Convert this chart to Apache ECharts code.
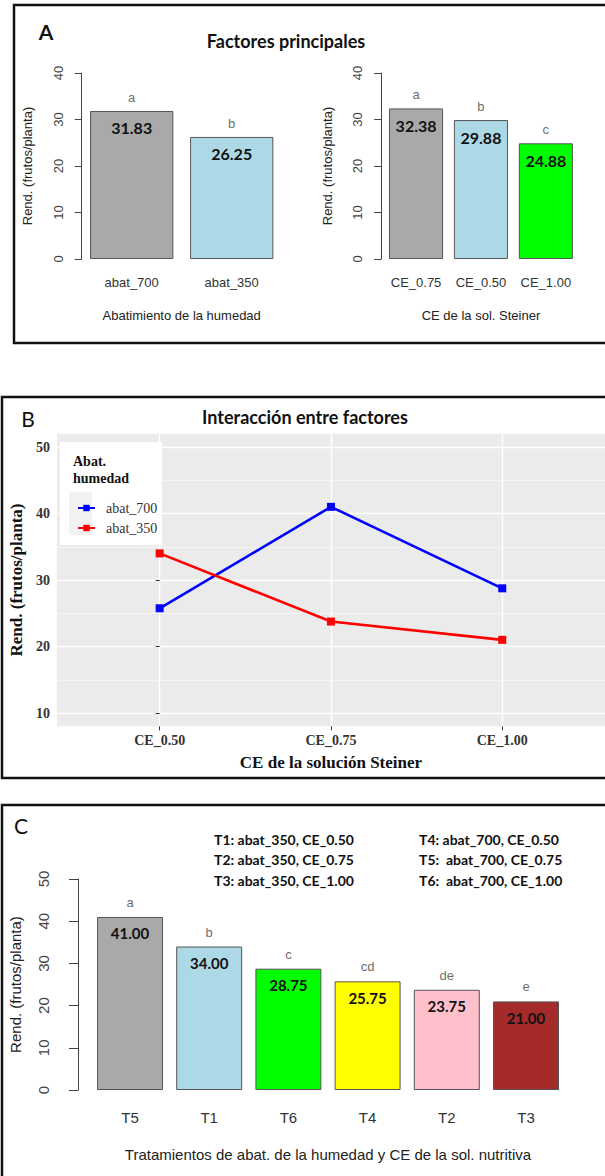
<!DOCTYPE html>
<html><head><meta charset="utf-8">
<script src="https://cdn.jsdelivr.net/npm/echarts@6/dist/echarts.min.js"></script>
<style>html,body{margin:0;padding:0;background:#fff}#c{width:605px;height:1176px}</style>
</head><body><div id="c"></div>
<script>
// ---------- data ----------
const catsA1 = ['abat_700', 'abat_350'];
const valsA1 = [31.83, 26.25];
const lettersA1 = ['a', 'b'];
const catsA2 = ['CE_0.75', 'CE_0.50', 'CE_1.00'];
const valsA2 = [32.38, 29.88, 24.88];
const lettersA2 = ['a', 'b', 'c'];
const ticksA = [0, 10, 20, 30, 40];

const catsB = ['CE_0.50', 'CE_0.75', 'CE_1.00'];
const seriesNamesB = ['abat_700', 'abat_350'];
const abat700 = [25.75, 41.00, 28.75];
const abat350 = [34.00, 23.75, 21.00];
const ticksB = [10, 20, 30, 40, 50];

const catsC = ['T5', 'T1', 'T6', 'T4', 'T2', 'T3'];
const valsC = [41.00, 34.00, 28.75, 25.75, 23.75, 21.00];
const lettersC = ['a', 'b', 'c', 'cd', 'de', 'e'];
const ticksC = [0, 10, 20, 30, 40, 50];
const treatLeft = ['T1: abat_350, CE_0.50', 'T2: abat_350, CE_0.75', 'T3: abat_350, CE_1.00'];
const treatRight = ['T4: abat_700, CE_0.50', 'T5:  abat_700, CE_0.75', 'T6:  abat_700, CE_1.00'];

// ---------- styles ----------
const colA1 = ['#A9A9A9', '#ADD8E6'];
const colA2 = ['#A9A9A9', '#ADD8E6', '#00FF00'];
const colC = ['#A9A9A9', '#ADD8E6', '#00FF00', '#FFFF00', '#FFC0CB', '#A52A2A'];
const SANS = 'Liberation Sans, Arial, sans-serif';
const SERIF = 'Liberation Serif, Times New Roman, serif';
const CAL = 'Lato, Open Sans, sans-serif';

const chart = echarts.init(document.getElementById('c'), null, {renderer: 'svg'});

function barX(gi, cats, name, fs, margin, gap) {
  return {gridIndex: gi, type: 'category', data: cats,
    axisLine: {show: false}, axisTick: {show: false},
    axisLabel: {interval: 0, margin: margin, fontFamily: SANS, fontSize: fs, color: '#333'},
    name: name, nameLocation: 'middle', nameGap: gap,
    nameTextStyle: {fontFamily: SANS, fontSize: fs, color: '#222'}};
}
function barY(gi, ticks, fs, tickLen, margin, gap, offset) {
  return {gridIndex: gi, type: 'value', min: ticks[0], max: ticks[ticks.length - 1],
    interval: ticks[1] - ticks[0], offset: offset,
    axisLine: {show: true, lineStyle: {color: '#444', width: 1}},
    axisTick: {show: true, length: tickLen, lineStyle: {color: '#444'}},
    axisLabel: {rotate: 90, margin: margin, fontFamily: SANS, fontSize: fs, color: '#444'},
    splitLine: {show: false},
    name: 'Rend. (frutos/planta)', nameLocation: 'middle', nameRotate: 90, nameGap: gap,
    nameTextStyle: {fontFamily: SANS, fontSize: fs, color: '#222'}};
}
function barSeries(gi, vals, cols, letters, fs, dIn, dTop) {
  return [{
    type: 'bar', xAxisIndex: gi, yAxisIndex: gi, barCategoryGap: '16.7%', silent: true,
    data: vals.map((v, j) => ({value: v, itemStyle: {color: cols[j]}})),
    itemStyle: {borderColor: '#555', borderWidth: 1},
    label: {show: true, position: 'insideTop', distance: dIn,
      formatter: p => p.value.toFixed(2),
      fontFamily: CAL, fontWeight: 'bold', fontSize: fs, color: '#111'}
  }, {
    type: 'scatter', xAxisIndex: gi, yAxisIndex: gi, symbolSize: 0, silent: true,
    data: vals.slice(),
    label: {show: true, position: 'top', distance: dTop,
      formatter: p => letters[p.dataIndex],
      fontFamily: SANS, fontSize: 13, color: '#444'}
  }];
}

const txt = (t, x, y, font, align, color) => ({type: 'text', z: 20,
  style: {text: t, x: x, y: y, font: font, fill: color || '#111', align: align || 'center', verticalAlign: 'middle'}});
const box = (x, y, w, h, fill, stroke, lw, z) => ({type: 'rect', z: z,
  shape: {x: x, y: y, width: w, height: h},
  style: {fill: fill, stroke: stroke, lineWidth: lw}});

const graphics = [
  box(14, 5, 620, 338, 'none', '#111', 2.5, 30),
  box(2, 397, 630, 381, 'none', '#111', 2.5, 30),
  box(2, 805, 630, 420, 'none', '#111', 2.5, 30),
  txt('A', 46, 31, 'bold 21px ' + CAL),
  txt('Factores principales', 286, 41, 'bold 18px ' + CAL),
  txt('B', 28, 418, '21px ' + CAL),
  txt('Interacción entre factores', 305, 417, 'bold 18px ' + CAL),
  txt('C', 21, 825, '21px ' + CAL),
  box(60, 442, 102, 103, '#fff', 'none', 0, 5),
  box(69, 492, 23, 43, '#F2F2F2', 'none', 0, 6),
  txt('Abat.', 73, 461, 'bold 14px ' + SERIF, 'left', '#111'),
  txt('humedad', 73, 478, 'bold 14px ' + SERIF, 'left', '#111')
];
treatLeft.forEach((t, i) => graphics.push(txt(t, 214, 839 + i * 20.5, 'bold 14px ' + CAL, 'left')));
treatRight.forEach((t, i) => graphics.push(txt(t, 419, 839 + i * 20.5, 'bold 14px ' + CAL, 'left')));

const bLo = ticksB[0] - 0.05 * (ticksB[ticksB.length - 1] - ticksB[0]);
const bHi = ticksB[ticksB.length - 1] + 0.05 * (ticksB[ticksB.length - 1] - ticksB[0]);
const catIdxB = catsB.map((c, i) => i);
const serifBold = {fontFamily: SERIF, fontWeight: 'bold', color: '#333'};

const option = {
  animation: false,
  backgroundColor: '#fff',
  grid: [
    {left: 81.7, top: 73, width: 200, height: 186},
    {left: 383.6, top: 73, width: 194.7, height: 186},
    {left: 56, top: 433.7, width: 558, height: 292.6, show: true, backgroundColor: '#EBEBEB', borderWidth: 0},
    {left: 90.4, top: 879, width: 475.2, height: 211}
  ],
  xAxis: [
    barX(0, catsA1, 'Abatimiento de la humedad', 13, 17, 50),
    barX(1, catsA2, 'CE de la sol. Steiner', 13, 17, 50),
    {gridIndex: 2, type: 'value', min: -0.6, max: catsB.length - 1 + 0.6,
      axisLine: {show: false},
      axisTick: {show: true, length: 4, customValues: catIdxB, lineStyle: {color: '#333'}},
      axisLabel: Object.assign({customValues: catIdxB, formatter: v => catsB[Math.round(v)], margin: 7, fontSize: 14}, serifBold),
      splitLine: {show: true, lineStyle: {color: '#fff', width: 1.4}},
      name: 'CE de la solución Steiner', nameLocation: 'middle', nameGap: 28,
      nameTextStyle: Object.assign({fontSize: 17}, serifBold, {color: '#111'})},
    barX(3, catsC, 'Tratamientos de abat. de la humedad y CE de la sol. nutritiva', 15, 20, 57)
  ],
  yAxis: [
    barY(0, ticksA, 13, 7, 17, 48, 0),
    barY(1, ticksA, 13, 7, 17, 47, 2.5),
    {gridIndex: 2, type: 'value', min: bLo, max: bHi,
      axisLine: {show: false},
      axisTick: {show: true, length: 4, customValues: ticksB, lineStyle: {color: '#333'}},
      axisLabel: Object.assign({customValues: ticksB, margin: 7, fontSize: 14}, serifBold),
      splitLine: {show: true, lineStyle: {color: '#fff', width: 1.4}},
      minorTick: {show: false, splitNumber: 2},
      minorSplitLine: {show: true, lineStyle: {color: '#F7F7F7', width: 0.8}},
      name: 'Rend. (frutos/planta)', nameLocation: 'middle', nameRotate: 90, nameGap: 27,
      nameTextStyle: Object.assign({fontSize: 17}, serifBold, {color: '#111'})},
    barY(3, ticksC, 15, 9, 27, 55, 12.4)
  ],
  legend: {
    z: 10, left: 72, top: 496, orient: 'vertical', itemWidth: 17, itemHeight: 8, itemGap: 6,
    data: seriesNamesB,
    textStyle: {fontFamily: SERIF, fontSize: 14, color: '#333', padding: [0, 0, 0, 6]}
  },
  series: [
    ...barSeries(0, valsA1, colA1, lettersA1, 16, 9, 7),
    ...barSeries(1, valsA2, colA2, lettersA2, 16, 9, 7),
    {name: seriesNamesB[0], type: 'line', xAxisIndex: 2, yAxisIndex: 2,
      data: abat700.map((v, i) => [i, v]), symbol: 'rect', symbolSize: 8,
      itemStyle: {color: '#0000FF'}, lineStyle: {color: '#0000FF', width: 2.6}},
    {name: seriesNamesB[1], type: 'line', xAxisIndex: 2, yAxisIndex: 2,
      data: abat350.map((v, i) => [i, v]), symbol: 'rect', symbolSize: 8,
      itemStyle: {color: '#FF0000'}, lineStyle: {color: '#FF0000', width: 2.6}},
    ...barSeries(3, valsC, colC, lettersC, 15, 9, 8)
  ],
  graphic: graphics
};
chart.setOption(option);
</script></body></html>
